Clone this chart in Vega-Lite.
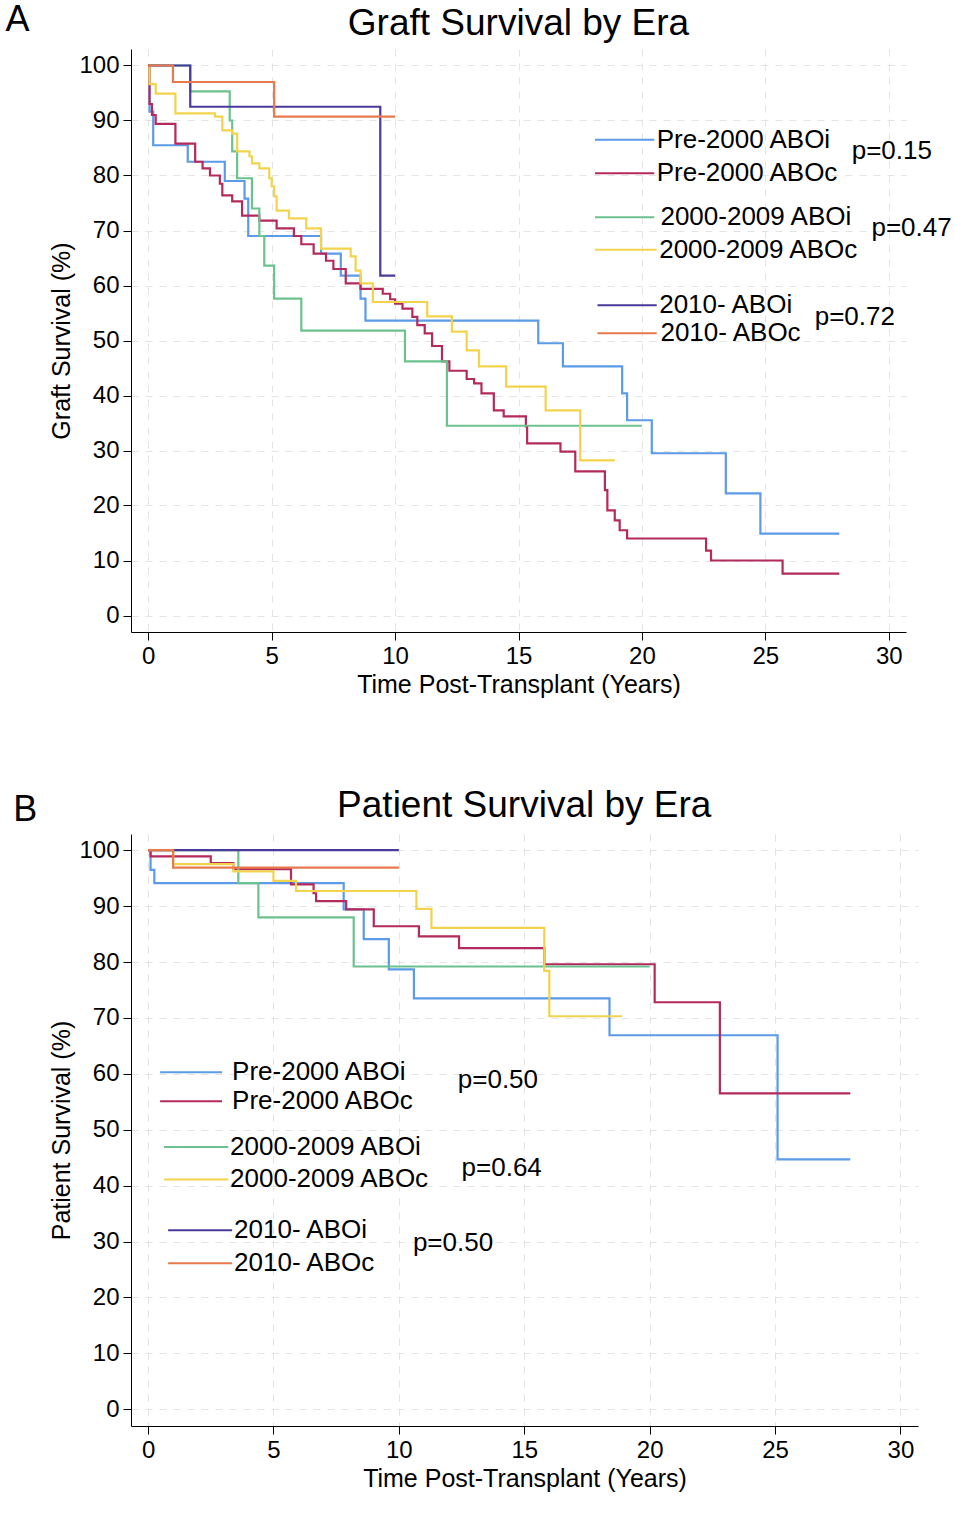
{
  "$schema": "https://vega.github.io/schema/vega-lite/v6.json",
  "padding": {"left": 5, "top": 2, "right": 5, "bottom": 2},
  "background": "white",
  "config": {
    "font": "Liberation Sans",
    "view": {"stroke": null},
    "axis": {"labelFontSize": 24, "titleFontSize": 25, "titleFontWeight": "normal", "labelColor": "black", "titleColor": "black",
      "domainColor": "black", "tickColor": "black", "tickSize": 8, "grid": true, "gridDash": [7, 7], "gridColor": "#e3e3e3", "labelPadding": 4}
  },
  "datasets": {
    "curves": [
      {"panel":"A","series":"Pre-2000 ABOi","t":0,"s":100},{"panel":"A","series":"Pre-2000 ABOi","t":0.05,"s":91.6},{"panel":"A","series":"Pre-2000 ABOi","t":0.2,"s":85.5},{"panel":"A","series":"Pre-2000 ABOi","t":1.6,"s":82.5},{"panel":"A","series":"Pre-2000 ABOi","t":3.1,"s":79},{"panel":"A","series":"Pre-2000 ABOi","t":3.9,"s":75.8},{"panel":"A","series":"Pre-2000 ABOi","t":4.05,"s":69},{"panel":"A","series":"Pre-2000 ABOi","t":7.0,"s":65.8},{"panel":"A","series":"Pre-2000 ABOi","t":7.8,"s":61.8},{"panel":"A","series":"Pre-2000 ABOi","t":8.6,"s":57.6},{"panel":"A","series":"Pre-2000 ABOi","t":8.8,"s":53.6},{"panel":"A","series":"Pre-2000 ABOi","t":15.8,"s":49.5},{"panel":"A","series":"Pre-2000 ABOi","t":16.8,"s":45.3},{"panel":"A","series":"Pre-2000 ABOi","t":19.2,"s":40.4},{"panel":"A","series":"Pre-2000 ABOi","t":19.4,"s":35.5},{"panel":"A","series":"Pre-2000 ABOi","t":20.4,"s":29.5},{"panel":"A","series":"Pre-2000 ABOi","t":23.4,"s":22.2},{"panel":"A","series":"Pre-2000 ABOi","t":24.8,"s":14.9},{"panel":"A","series":"Pre-2000 ABOi","t":28,"s":14.9},
      {"panel":"A","series":"Pre-2000 ABOc","t":0,"s":100},{"panel":"A","series":"Pre-2000 ABOc","t":0.05,"s":93},{"panel":"A","series":"Pre-2000 ABOc","t":0.15,"s":91},{"panel":"A","series":"Pre-2000 ABOc","t":0.3,"s":89.4},{"panel":"A","series":"Pre-2000 ABOc","t":1.1,"s":85.8},{"panel":"A","series":"Pre-2000 ABOc","t":1.9,"s":82.5},{"panel":"A","series":"Pre-2000 ABOc","t":2.2,"s":81.3},{"panel":"A","series":"Pre-2000 ABOc","t":2.5,"s":80},{"panel":"A","series":"Pre-2000 ABOc","t":2.9,"s":78.5},{"panel":"A","series":"Pre-2000 ABOc","t":3.0,"s":76.4},{"panel":"A","series":"Pre-2000 ABOc","t":3.4,"s":75.3},{"panel":"A","series":"Pre-2000 ABOc","t":3.8,"s":72.7},{"panel":"A","series":"Pre-2000 ABOc","t":4.5,"s":71.8},{"panel":"A","series":"Pre-2000 ABOc","t":5.2,"s":70.4},{"panel":"A","series":"Pre-2000 ABOc","t":5.9,"s":69},{"panel":"A","series":"Pre-2000 ABOc","t":6.2,"s":67.5},{"panel":"A","series":"Pre-2000 ABOc","t":6.7,"s":65.8},{"panel":"A","series":"Pre-2000 ABOc","t":7.2,"s":64.5},{"panel":"A","series":"Pre-2000 ABOc","t":7.5,"s":63},{"panel":"A","series":"Pre-2000 ABOc","t":8.0,"s":60.4},{"panel":"A","series":"Pre-2000 ABOc","t":8.6,"s":59.4},{"panel":"A","series":"Pre-2000 ABOc","t":9.5,"s":58.5},{"panel":"A","series":"Pre-2000 ABOc","t":9.8,"s":57.5},{"panel":"A","series":"Pre-2000 ABOc","t":10.0,"s":56.7},{"panel":"A","series":"Pre-2000 ABOc","t":10.3,"s":55.8},{"panel":"A","series":"Pre-2000 ABOc","t":10.7,"s":54.3},{"panel":"A","series":"Pre-2000 ABOc","t":10.9,"s":52.8},{"panel":"A","series":"Pre-2000 ABOc","t":11.2,"s":51.3},{"panel":"A","series":"Pre-2000 ABOc","t":11.5,"s":49},{"panel":"A","series":"Pre-2000 ABOc","t":11.9,"s":46.2},{"panel":"A","series":"Pre-2000 ABOc","t":12.2,"s":44.5},{"panel":"A","series":"Pre-2000 ABOc","t":12.9,"s":43},{"panel":"A","series":"Pre-2000 ABOc","t":13.2,"s":42.2},{"panel":"A","series":"Pre-2000 ABOc","t":13.5,"s":40.4},{"panel":"A","series":"Pre-2000 ABOc","t":14.0,"s":37.3},{"panel":"A","series":"Pre-2000 ABOc","t":14.4,"s":36.2},{"panel":"A","series":"Pre-2000 ABOc","t":15.3,"s":34.4},{"panel":"A","series":"Pre-2000 ABOc","t":15.35,"s":31.3},{"panel":"A","series":"Pre-2000 ABOc","t":16.7,"s":29.8},{"panel":"A","series":"Pre-2000 ABOc","t":17.3,"s":26.2},{"panel":"A","series":"Pre-2000 ABOc","t":18.5,"s":22.8},{"panel":"A","series":"Pre-2000 ABOc","t":18.6,"s":19.1},{"panel":"A","series":"Pre-2000 ABOc","t":18.9,"s":17.3},{"panel":"A","series":"Pre-2000 ABOc","t":19.1,"s":15.5},{"panel":"A","series":"Pre-2000 ABOc","t":19.4,"s":14},{"panel":"A","series":"Pre-2000 ABOc","t":22.6,"s":11.8},{"panel":"A","series":"Pre-2000 ABOc","t":22.8,"s":10},{"panel":"A","series":"Pre-2000 ABOc","t":25.7,"s":7.6},{"panel":"A","series":"Pre-2000 ABOc","t":28,"s":7.6},
      {"panel":"A","series":"2000-2009 ABOi","t":0,"s":100},{"panel":"A","series":"2000-2009 ABOi","t":1.7,"s":95.3},{"panel":"A","series":"2000-2009 ABOi","t":3.3,"s":90},{"panel":"A","series":"2000-2009 ABOi","t":3.4,"s":84.4},{"panel":"A","series":"2000-2009 ABOi","t":3.6,"s":79.5},{"panel":"A","series":"2000-2009 ABOi","t":4.2,"s":74},{"panel":"A","series":"2000-2009 ABOi","t":4.5,"s":69},{"panel":"A","series":"2000-2009 ABOi","t":4.7,"s":63.6},{"panel":"A","series":"2000-2009 ABOi","t":5.1,"s":57.6},{"panel":"A","series":"2000-2009 ABOi","t":6.2,"s":51.8},{"panel":"A","series":"2000-2009 ABOi","t":10.4,"s":46.2},{"panel":"A","series":"2000-2009 ABOi","t":12.1,"s":34.5},{"panel":"A","series":"2000-2009 ABOi","t":20,"s":34.5},
      {"panel":"A","series":"2000-2009 ABOc","t":0,"s":100},{"panel":"A","series":"2000-2009 ABOc","t":0.05,"s":96.6},{"panel":"A","series":"2000-2009 ABOc","t":0.3,"s":94.9},{"panel":"A","series":"2000-2009 ABOc","t":1.1,"s":91.3},{"panel":"A","series":"2000-2009 ABOc","t":2.7,"s":90.7},{"panel":"A","series":"2000-2009 ABOc","t":3.0,"s":88.2},{"panel":"A","series":"2000-2009 ABOc","t":3.4,"s":87.6},{"panel":"A","series":"2000-2009 ABOc","t":3.6,"s":84.4},{"panel":"A","series":"2000-2009 ABOc","t":4.1,"s":83.5},{"panel":"A","series":"2000-2009 ABOc","t":4.2,"s":82.2},{"panel":"A","series":"2000-2009 ABOc","t":4.5,"s":81.3},{"panel":"A","series":"2000-2009 ABOc","t":4.9,"s":79.5},{"panel":"A","series":"2000-2009 ABOc","t":5.0,"s":78},{"panel":"A","series":"2000-2009 ABOc","t":5.1,"s":76.2},{"panel":"A","series":"2000-2009 ABOc","t":5.2,"s":73.6},{"panel":"A","series":"2000-2009 ABOc","t":5.7,"s":72.2},{"panel":"A","series":"2000-2009 ABOc","t":6.4,"s":70.4},{"panel":"A","series":"2000-2009 ABOc","t":7.0,"s":66.7},{"panel":"A","series":"2000-2009 ABOc","t":8.2,"s":65.3},{"panel":"A","series":"2000-2009 ABOc","t":8.4,"s":62.7},{"panel":"A","series":"2000-2009 ABOc","t":8.6,"s":60.4},{"panel":"A","series":"2000-2009 ABOc","t":9.1,"s":57},{"panel":"A","series":"2000-2009 ABOc","t":11.3,"s":54.4},{"panel":"A","series":"2000-2009 ABOc","t":12.3,"s":51.6},{"panel":"A","series":"2000-2009 ABOc","t":12.9,"s":48.2},{"panel":"A","series":"2000-2009 ABOc","t":13.4,"s":45.3},{"panel":"A","series":"2000-2009 ABOc","t":14.5,"s":41.6},{"panel":"A","series":"2000-2009 ABOc","t":16.1,"s":37.3},{"panel":"A","series":"2000-2009 ABOc","t":17.5,"s":28.2},{"panel":"A","series":"2000-2009 ABOc","t":18.9,"s":28.2},
      {"panel":"A","series":"2010- ABOi","t":0,"s":100},{"panel":"A","series":"2010- ABOi","t":1.7,"s":92.5},{"panel":"A","series":"2010- ABOi","t":9.4,"s":61.8},{"panel":"A","series":"2010- ABOi","t":10,"s":61.8},
      {"panel":"A","series":"2010- ABOc","t":0,"s":100},{"panel":"A","series":"2010- ABOc","t":1.0,"s":97},{"panel":"A","series":"2010- ABOc","t":5.1,"s":90.7},{"panel":"A","series":"2010- ABOc","t":10,"s":90.7},
      {"panel":"B","series":"Pre-2000 ABOi","t":0,"s":100},{"panel":"B","series":"Pre-2000 ABOi","t":0.1,"s":96.5},{"panel":"B","series":"Pre-2000 ABOi","t":0.25,"s":94.1},{"panel":"B","series":"Pre-2000 ABOi","t":7.8,"s":89.4},{"panel":"B","series":"Pre-2000 ABOi","t":8.6,"s":84.1},{"panel":"B","series":"Pre-2000 ABOi","t":9.6,"s":78.7},{"panel":"B","series":"Pre-2000 ABOi","t":10.6,"s":73.5},{"panel":"B","series":"Pre-2000 ABOi","t":18.4,"s":66.9},{"panel":"B","series":"Pre-2000 ABOi","t":25.1,"s":44.7},{"panel":"B","series":"Pre-2000 ABOi","t":28,"s":44.7},
      {"panel":"B","series":"Pre-2000 ABOc","t":0,"s":100},{"panel":"B","series":"Pre-2000 ABOc","t":0.1,"s":98.9},{"panel":"B","series":"Pre-2000 ABOc","t":2.5,"s":97.7},{"panel":"B","series":"Pre-2000 ABOc","t":3.4,"s":96.6},{"panel":"B","series":"Pre-2000 ABOc","t":5.7,"s":93.9},{"panel":"B","series":"Pre-2000 ABOc","t":6.6,"s":92.3},{"panel":"B","series":"Pre-2000 ABOc","t":6.7,"s":90.9},{"panel":"B","series":"Pre-2000 ABOc","t":7.9,"s":89.4},{"panel":"B","series":"Pre-2000 ABOc","t":9.0,"s":86.4},{"panel":"B","series":"Pre-2000 ABOc","t":10.8,"s":84.6},{"panel":"B","series":"Pre-2000 ABOc","t":12.4,"s":82.5},{"panel":"B","series":"Pre-2000 ABOc","t":15.8,"s":79.6},{"panel":"B","series":"Pre-2000 ABOc","t":20.2,"s":72.8},{"panel":"B","series":"Pre-2000 ABOc","t":22.8,"s":56.5},{"panel":"B","series":"Pre-2000 ABOc","t":28,"s":56.5},
      {"panel":"B","series":"2000-2009 ABOi","t":0,"s":100},{"panel":"B","series":"2000-2009 ABOi","t":3.6,"s":94.1},{"panel":"B","series":"2000-2009 ABOi","t":4.4,"s":88},{"panel":"B","series":"2000-2009 ABOi","t":8.2,"s":79.2},{"panel":"B","series":"2000-2009 ABOi","t":20,"s":79.2},
      {"panel":"B","series":"2000-2009 ABOc","t":0,"s":100},{"panel":"B","series":"2000-2009 ABOc","t":1.0,"s":97.5},{"panel":"B","series":"2000-2009 ABOc","t":3.4,"s":96.2},{"panel":"B","series":"2000-2009 ABOc","t":5.0,"s":94.5},{"panel":"B","series":"2000-2009 ABOc","t":5.9,"s":92.7},{"panel":"B","series":"2000-2009 ABOc","t":10.7,"s":89.5},{"panel":"B","series":"2000-2009 ABOc","t":11.3,"s":86.1},{"panel":"B","series":"2000-2009 ABOc","t":15.8,"s":78.4},{"panel":"B","series":"2000-2009 ABOc","t":16.0,"s":70.3},{"panel":"B","series":"2000-2009 ABOc","t":18.9,"s":70.3},
      {"panel":"B","series":"2010- ABOi","t":0,"s":100},{"panel":"B","series":"2010- ABOi","t":10,"s":100},
      {"panel":"B","series":"2010- ABOc","t":0,"s":100},{"panel":"B","series":"2010- ABOc","t":1.0,"s":96.9},{"panel":"B","series":"2010- ABOc","t":10,"s":96.9}
    ],
    "legend": [
      {"panel":"A","series":"Pre-2000 ABOi","x1":18.1,"x2":20.5,"y":86.5,"lx":20.6},
      {"panel":"A","series":"Pre-2000 ABOc","x1":18.1,"x2":20.5,"y":80.4,"lx":20.6},
      {"panel":"A","series":"2000-2009 ABOi","x1":18.1,"x2":20.5,"y":72.4,"lx":20.75},
      {"panel":"A","series":"2000-2009 ABOc","x1":18.1,"x2":20.6,"y":66.5,"lx":20.7},
      {"panel":"A","series":"2010- ABOi","x1":18.2,"x2":20.6,"y":56.4,"lx":20.7},
      {"panel":"A","series":"2010- ABOc","x1":18.2,"x2":20.6,"y":51.3,"lx":20.75},
      {"panel":"B","series":"Pre-2000 ABOi","x1":0.48,"x2":2.95,"y":60.3,"lx":3.35},
      {"panel":"B","series":"Pre-2000 ABOc","x1":0.48,"x2":2.95,"y":55.1,"lx":3.35},
      {"panel":"B","series":"2000-2009 ABOi","x1":0.64,"x2":3.2,"y":46.9,"lx":3.27},
      {"panel":"B","series":"2000-2009 ABOc","x1":0.64,"x2":3.2,"y":41.1,"lx":3.27},
      {"panel":"B","series":"2010- ABOi","x1":0.8,"x2":3.35,"y":32.0,"lx":3.43},
      {"panel":"B","series":"2010- ABOc","x1":0.8,"x2":3.35,"y":26.1,"lx":3.43}
    ],
    "notes": [
      {"panel":"A","label":"p=0.15","x":28.5,"y":84.5},
      {"panel":"A","label":"p=0.47","x":29.3,"y":70.4},
      {"panel":"A","label":"p=0.72","x":27.0,"y":54.2},
      {"panel":"B","label":"p=0.50","x":12.35,"y":58.9},
      {"panel":"B","label":"p=0.64","x":12.5,"y":43.1},
      {"panel":"B","label":"p=0.50","x":10.56,"y":29.7}
    ],
    "headings": [
      {"panel":"A","label":"A","x":-5.3,"y":108.2,"size":36,"weight":"bold","align":"left"},
      {"panel":"A","label":"Graft Survival by Era","x":15.0,"y":107.6,"size":37,"weight":"normal","align":"center"},
      {"panel":"B","label":"B","x":-4.9,"y":107.2,"size":36,"weight":"bold","align":"left"},
      {"panel":"B","label":"Patient Survival by Era","x":15.0,"y":107.9,"size":37,"weight":"normal","align":"center"}
    ]
  },
  "vconcat": [
    {
      "width": 775, "height": 583,
      "layer": [
        {
          "data": {"name": "curves"},
          "transform": [{"filter": "datum.panel == 'A'"}],
          "mark": {"type": "line", "interpolate": "step-after", "strokeWidth": 2.2},
          "encoding": {
            "x": {"field": "t", "type": "quantitative", "scale": {"domain": [-0.7, 30.7], "nice": false, "zero": false},
              "axis": {"values": [0, 5, 10, 15, 20, 25, 30], "title": "Time Post-Transplant (Years)"}},
            "y": {"field": "s", "type": "quantitative", "scale": {"domain": [-3, 103], "nice": false, "zero": false},
              "axis": {"values": [0, 10, 20, 30, 40, 50, 60, 70, 80, 90, 100], "title": "Graft Survival (%)"}},
            "color": {"field": "series", "type": "nominal", "legend": null,
              "scale": {"domain": ["Pre-2000 ABOi", "Pre-2000 ABOc", "2000-2009 ABOi", "2000-2009 ABOc", "2010- ABOi", "2010- ABOc"],
                "range": ["#5b9be8", "#b42a5c", "#6cc28e", "#f3d34c", "#4a3a9c", "#e8794c"]}},
            "order": {"field": "t", "type": "quantitative"}
          }
        },
        {
          "data": {"name": "legend"},
          "transform": [{"filter": "datum.panel == 'A'"}],
          "mark": {"type": "rule", "strokeWidth": 2},
          "encoding": {
            "x": {"field": "x1", "type": "quantitative"},
            "x2": {"field": "x2"},
            "y": {"field": "y", "type": "quantitative"},
            "color": {"field": "series", "type": "nominal", "legend": null}
          }
        },
        {
          "data": {"name": "legend"},
          "transform": [{"filter": "datum.panel == 'A'"}],
          "mark": {"type": "text", "align": "left", "baseline": "middle", "fontSize": 26, "color": "black"},
          "encoding": {
            "x": {"field": "lx", "type": "quantitative"},
            "y": {"field": "y", "type": "quantitative"},
            "text": {"field": "series"}
          }
        },
        {
          "data": {"name": "notes"},
          "transform": [{"filter": "datum.panel == 'A'"}],
          "mark": {"type": "text", "align": "left", "baseline": "middle", "fontSize": 26, "color": "black"},
          "encoding": {
            "x": {"field": "x", "type": "quantitative"},
            "y": {"field": "y", "type": "quantitative"},
            "text": {"field": "label"}
          }
        },
        {
          "data": {"name": "headings"},
          "transform": [{"filter": "datum.panel == 'A'"}],
          "mark": {"type": "text", "baseline": "middle", "color": "black"},
          "encoding": {
            "x": {"field": "x", "type": "quantitative"},
            "y": {"field": "y", "type": "quantitative"},
            "text": {"field": "label"},
            "size": {"field": "size", "type": "quantitative", "scale": null},
            "align": {"field": "align", "type": "nominal", "scale": null},
            "fontWeight": {"field": "weight", "type": "nominal", "scale": null}
          }
        }
      ]
    },
    {
      "width": 787, "height": 592,
      "layer": [
        {
          "data": {"name": "curves"},
          "transform": [{"filter": "datum.panel == 'B'"}],
          "mark": {"type": "line", "interpolate": "step-after", "strokeWidth": 2.2},
          "encoding": {
            "x": {"field": "t", "type": "quantitative", "scale": {"domain": [-0.68, 30.7], "nice": false, "zero": false},
              "axis": {"values": [0, 5, 10, 15, 20, 25, 30], "title": "Time Post-Transplant (Years)"}},
            "y": {"field": "s", "type": "quantitative", "scale": {"domain": [-3, 102.9], "nice": false, "zero": false},
              "axis": {"values": [0, 10, 20, 30, 40, 50, 60, 70, 80, 90, 100], "title": "Patient Survival (%)"}},
            "color": {"field": "series", "type": "nominal", "legend": null,
              "scale": {"domain": ["Pre-2000 ABOi", "Pre-2000 ABOc", "2000-2009 ABOi", "2000-2009 ABOc", "2010- ABOi", "2010- ABOc"],
                "range": ["#5b9be8", "#b42a5c", "#6cc28e", "#f3d34c", "#4a3a9c", "#e8794c"]}},
            "order": {"field": "t", "type": "quantitative"}
          }
        },
        {
          "data": {"name": "legend"},
          "transform": [{"filter": "datum.panel == 'B'"}],
          "mark": {"type": "rule", "strokeWidth": 2},
          "encoding": {
            "x": {"field": "x1", "type": "quantitative"},
            "x2": {"field": "x2"},
            "y": {"field": "y", "type": "quantitative"},
            "color": {"field": "series", "type": "nominal", "legend": null}
          }
        },
        {
          "data": {"name": "legend"},
          "transform": [{"filter": "datum.panel == 'B'"}],
          "mark": {"type": "text", "align": "left", "baseline": "middle", "fontSize": 26, "color": "black"},
          "encoding": {
            "x": {"field": "lx", "type": "quantitative"},
            "y": {"field": "y", "type": "quantitative"},
            "text": {"field": "series"}
          }
        },
        {
          "data": {"name": "notes"},
          "transform": [{"filter": "datum.panel == 'B'"}],
          "mark": {"type": "text", "align": "left", "baseline": "middle", "fontSize": 26, "color": "black"},
          "encoding": {
            "x": {"field": "x", "type": "quantitative"},
            "y": {"field": "y", "type": "quantitative"},
            "text": {"field": "label"}
          }
        },
        {
          "data": {"name": "headings"},
          "transform": [{"filter": "datum.panel == 'B'"}],
          "mark": {"type": "text", "baseline": "middle", "color": "black"},
          "encoding": {
            "x": {"field": "x", "type": "quantitative"},
            "y": {"field": "y", "type": "quantitative"},
            "text": {"field": "label"},
            "size": {"field": "size", "type": "quantitative", "scale": null},
            "align": {"field": "align", "type": "nominal", "scale": null},
            "fontWeight": {"field": "weight", "type": "nominal", "scale": null}
          }
        }
      ]
    }
  ],
  "spacing": 90
}
